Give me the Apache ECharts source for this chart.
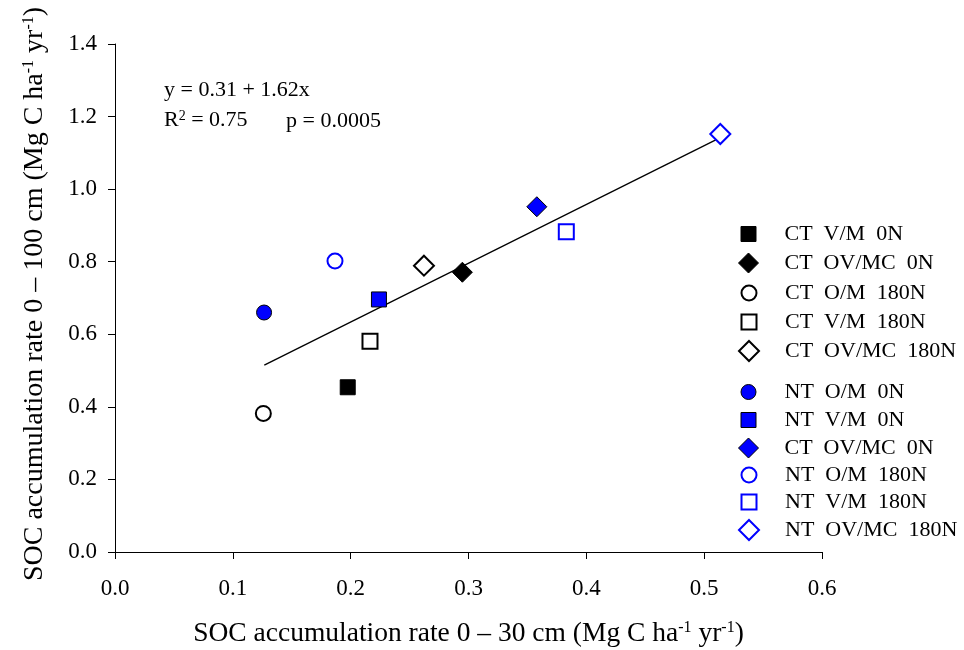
<!DOCTYPE html>
<html><head><meta charset="utf-8">
<script src="https://cdn.jsdelivr.net/npm/echarts@6/dist/echarts.min.js"></script>
<style>html,body{margin:0;padding:0;background:#fff}#c{width:964px;height:650px}</style>
</head><body><div id="c"></div>
<script>
// ---- data ----
const xTickLabels = ['0.0','0.1','0.2','0.3','0.4','0.5','0.6'];
const yTickLabels = ['0.0','0.2','0.4','0.6','0.8','1.0','1.2','1.4'];
const legendLabels = ['CT  V/M  0N','CT  OV/MC  0N','CT  O/M  180N','CT  V/M  180N','CT  OV/MC  180N',
                      'NT  O/M  0N','NT  V/M  0N','CT  OV/MC  0N','NT  O/M  180N','NT  V/M  180N','NT  OV/MC  180N'];
const rate30  = [0.1975, 0.2948, 0.1259, 0.2164, 0.2622, 0.1265, 0.2240, 0.3580, 0.1867, 0.3830, 0.5137];
const rate100 = [0.454,  0.771,  0.382,  0.581,  0.789,  0.660,  0.696,  0.9515, 0.802,  0.8826, 1.152];
const fitX = [0.1267, 0.5137];
const fitY = [0.515, 1.142];

// ---- styles ----
const FONT = '"Liberation Serif","Times New Roman",serif';
const BLUE = '#0000ff';
const symbols = ['rect','diamond','circle','rect','diamond','circle','rect','diamond','circle','rect','diamond'];
const fills   = ['#000','#000','#fff','#fff','#fff',BLUE,BLUE,BLUE,'#fff','#fff','#fff'];
const strokes = ['#000','#000','#000','#000','#000','#000','#000','#000',BLUE,BLUE,BLUE];
const strokeW = [1,1,2,2,2,1,1,1,2,2,2];
const sizeOf = s => s === 'diamond' ? 20 : 15;
const legendRowY = [234, 263, 293, 322, 351, 392, 420, 448, 475, 502, 530];
const legendIconX = 748, legendTextX = 784;

const series = [{
  type: 'line', name: 'fit', silent: true, symbol: 'none', z: 1,
  data: fitX.map((x, i) => [x, fitY[i]]),
  lineStyle: { color: '#000', width: 1.3 }
}];
rate30.forEach((x, i) => {
  series.push({
    type: 'scatter', name: 'item' + i, z: 3,
    symbol: symbols[i], symbolSize: sizeOf(symbols[i]),
    data: [[x, rate100[i]]],
    itemStyle: { color: fills[i], borderColor: strokes[i], borderWidth: strokeW[i], opacity: 1 }
  });
});

const legends = legendLabels.map((lab, i) => {
  const w = sizeOf(symbols[i]);
  return {
    show: true, orient: 'vertical', padding: 0, selectedMode: false,
    data: ['item' + i],
    left: legendIconX - w / 2, top: legendRowY[i] - 11,
    itemWidth: w, itemHeight: w,
    itemStyle: { borderWidth: strokeW[i] },
    formatter: () => lab,
    textStyle: { fontFamily: FONT, fontSize: 22, color: '#000',
                 padding: [0, 0, 0, legendTextX - legendIconX - w / 2 - 5] }
  };
});

const chart = echarts.init(document.getElementById('c'), null, { renderer: 'canvas' });
chart.setOption({
  backgroundColor: '#fff',
  animation: false,
  grid: { left: 115, right: 142, top: 44, bottom: 98, containLabel: false, outerBoundsMode: 'none' },
  xAxis: {
    type: 'value', min: 0, max: 0.6, interval: 0.1,
    name: 'SOC accumulation rate 0 – 30 cm (Mg C ha{sup|-1} yr{sup|-1})',
    nameLocation: 'middle', nameGap: 68,
    nameTextStyle: { fontFamily: FONT, fontSize: 27.5, color: '#000',
      rich: { sup: { fontFamily: FONT, fontSize: 16, color: '#000', verticalAlign: 'top' } } },
    axisLine: { show: true, lineStyle: { color: '#000', width: 1 } },
    axisTick: { show: true, inside: false, length: 7, lineStyle: { color: '#000', width: 1 } },
    splitLine: { show: false },
    axisLabel: { fontFamily: FONT, fontSize: 23, color: '#000', margin: 25,
      formatter: v => xTickLabels[Math.round(v / 0.1)] }
  },
  yAxis: {
    type: 'value', min: 0, max: 1.4, interval: 0.2,
    name: 'SOC accumulation rate 0 – 100 cm (Mg C ha{sup|-1} yr{sup|-1})',
    nameLocation: 'middle', nameGap: 66, nameRotate: 90,
    nameTextStyle: { fontFamily: FONT, fontSize: 28, color: '#000', padding: [0, 0, 0, 8],
      rich: { sup: { fontFamily: FONT, fontSize: 16, color: '#000', verticalAlign: 'top' } } },
    axisLine: { show: true, lineStyle: { color: '#000', width: 1 } },
    axisTick: { show: true, inside: false, length: 7, lineStyle: { color: '#000', width: 1 } },
    splitLine: { show: false },
    axisLabel: { fontFamily: FONT, fontSize: 23, color: '#000', margin: 18,
      formatter: v => yTickLabels[Math.round(v / 0.2)] }
  },
  legend: legends,
  graphic: [
    { type: 'text', left: 164, top: 79,
      style: { text: 'y = 0.31 + 1.62x', font: '22px ' + FONT, fill: '#000' } },
    { type: 'text', left: 164, top: 109,
      style: { text: 'R{sup|2} = 0.75', font: '22px ' + FONT, fill: '#000',
               rich: { sup: { fontSize: 14, fontFamily: FONT, verticalAlign: 'top', fill: '#000' } } } },
    { type: 'text', left: 286, top: 110,
      style: { text: 'p = 0.0005', font: '22px ' + FONT, fill: '#000' } }
  ],
  series: series
});
</script>
</body></html>
